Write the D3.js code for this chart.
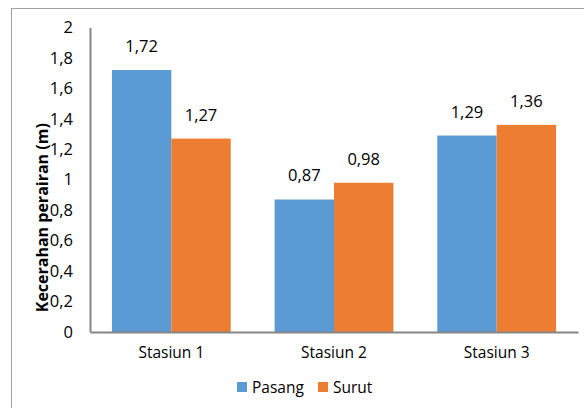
<!DOCTYPE html>
<html>
<head>
<meta charset="utf-8">
<script src="https://cdn.jsdelivr.net/npm/d3@7"></script>
<style>
  html, body { margin: 0; padding: 0; background: #fff; }
  svg { display: block; }
  text { font-family: "Open Sans", "Noto Sans", sans-serif; fill: #000; }
</style>
</head>
<body>
<svg id="chart" width="584" height="408"></svg>
<script>
const categories = ["Stasiun 1", "Stasiun 2", "Stasiun 3"];
const seriesNames = ["Pasang", "Surut"];
const pasang = [1.72, 0.87, 1.29];
const surut = [1.27, 0.98, 1.36];
const yTicks = [0, 0.2, 0.4, 0.6, 0.8, 1, 1.2, 1.4, 1.6, 1.8, 2];
const colors = ["#5B9BD5", "#ED7D31"];

const FONT = '"Open Sans", "Noto Sans", sans-serif';
const fmt = v => String(v).replace(".", ",");

const svg = d3.select("#chart");

// chart frame
svg.append("rect")
  .attr("x", 11.5).attr("y", 8.5)
  .attr("width", 584).attr("height", 420)
  .attr("fill", "none").attr("stroke", "#a0a0a0").attr("stroke-width", 1);

const plot = { left: 90, right: 578, top: 27.4, bottom: 332 };

const x0 = d3.scaleBand().domain(categories)
  .range([plot.left, plot.right]).paddingInner(0.27).paddingOuter(0.135);
const x1 = d3.scaleBand().domain(seriesNames).range([0, x0.bandwidth()]);
const y = d3.scaleLinear().domain([0, 2]).range([plot.bottom, plot.top]);

const rows = categories.map((c, i) => ({ cat: c, vals: [pasang[i], surut[i]] }));

const groups = svg.append("g").selectAll("g").data(rows).join("g")
  .attr("transform", d => `translate(${x0(d.cat)},0)`);

groups.selectAll("rect").data(d => d.vals.map((v, j) => ({ v, s: seriesNames[j], j })))
  .join("rect")
  .attr("x", d => x1(d.s))
  .attr("width", x1.bandwidth())
  .attr("y", d => y(d.v))
  .attr("height", d => y(0) - y(d.v))
  .attr("fill", d => colors[d.j]);

groups.selectAll("text.val").data(d => d.vals.map((v, j) => ({ v, s: seriesNames[j] })))
  .join("text").attr("class", "val")
  .attr("x", d => x1(d.s) + x1.bandwidth() / 2)
  .attr("y", d => y(d.v) - 18)
  .attr("text-anchor", "middle")
  .style("font-size", "16.5px")
  .text(d => fmt(d.v));

// y axis
const yAxis = svg.append("g")
  .attr("transform", `translate(${plot.left},0)`)
  .call(d3.axisLeft(y).tickValues(yTicks).tickSize(0).tickPadding(17).tickFormat(fmt));
yAxis.select(".domain").attr("stroke", "#868686").attr("stroke-width", 2);
yAxis.selectAll("text").style("font-size", "16.5px").style("font-family", FONT);

// x axis
const xAxis = svg.append("g")
  .attr("transform", `translate(0,${plot.bottom})`)
  .call(d3.axisBottom(x0).tickSize(0).tickPadding(15));
xAxis.select(".domain").attr("stroke", "#868686").attr("stroke-width", 2);
xAxis.selectAll("text").style("font-size", "15.5px").style("font-family", FONT);

// y axis title
svg.append("text")
  .attr("transform", `translate(48,${(plot.top + plot.bottom) / 2 + 38}) rotate(-90)`)
  .attr("text-anchor", "middle")
  .style("font-size", "16px").style("font-weight", "bold")
  .text("Kecerahan perairan (m)");

// legend
const legend = svg.append("g").attr("transform", "translate(237,382)");
const items = legend.selectAll("g").data(seriesNames).join("g")
  .attr("transform", (d, i) => `translate(${i * 81},0)`);
items.append("rect").attr("width", 10).attr("height", 10)
  .attr("fill", (d, i) => colors[i]);
items.append("text").attr("x", 15).attr("y", 11)
  .style("font-size", "15.5px").text(d => d);
</script>
</body>
</html>
